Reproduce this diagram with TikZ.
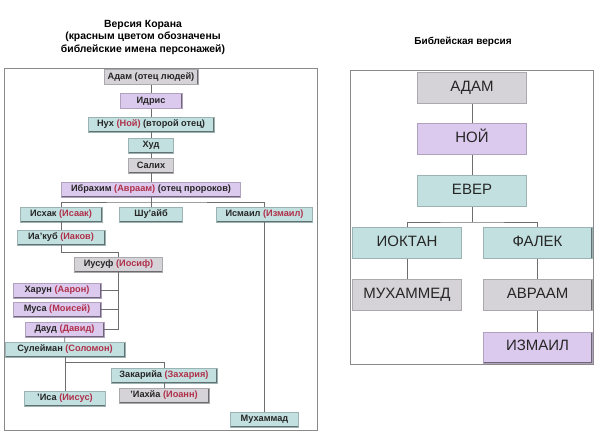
\documentclass[tikz,border=0pt]{standalone}
\usepackage{fontspec}
\setmainfont{Liberation Sans}
\usepackage{xcolor}
\usetikzlibrary{positioning,calc}
\definecolor{BoxGray}{HTML}{D5D3D8}
\definecolor{BoxLilac}{HTML}{DCCAEE}
\definecolor{BoxTeal}{HTML}{C3E0E0}
\definecolor{BibRed}{HTML}{B0304A}
\definecolor{LinkGray}{HTML}{6E6E6E}
\definecolor{FrameGray}{HTML}{8A8A8A}
\newcommand{\bib}[1]{\textcolor{BibRed}{#1}}

\tikzset{
  namebox/.style={fill=#1, draw=#1!80!black, inner sep=0pt, text=black!85,
    path picture={\draw[#1!50!black, line width=1.6pt]
      (path picture bounding box.north east) -- (path picture bounding box.south east)
      -- (path picture bounding box.south west);}},
  qbox/.style={namebox=#1, minimum height=15pt, font=\bfseries\fontsize{9.2}{10}\selectfont},
  bbox/.style={namebox=#1, minimum height=31pt, minimum width=109pt, text height=11pt, text depth=5pt, font=\fontsize{15}{18}\selectfont},
  link/.style={draw=LinkGray, line width=0.8pt},
  frame/.style={draw=FrameGray, line width=0.8pt, fill=white},
  headline/.style={font=\bfseries\fontsize{10.4}{12.5}\selectfont, align=center}
}

\begin{document}
\begin{tikzpicture}[x=1pt, y=-1pt]
  \useasboundingbox (0,0) rectangle (604,437);

  % titles
  \node[headline] (qtitle) at (143,37) {Версия Корана\\(красным цветом обозначены\\библейские имена персонажей)};
  \node[headline, font=\bfseries\fontsize{10}{12}\selectfont] (btitle) at (463,42) {Библейская версия};

  % frames
  \draw[frame] (4,68) rectangle (317,430);
  \draw[frame] (350,70) rectangle (593,364);

  % Quran version
  \node[qbox=BoxGray, minimum width=94pt] (adam) at (151,77) {Адам (отец людей)};
  \node[qbox=BoxLilac, minimum width=62pt] (idris) at (151,101) {Идрис};
  \node[qbox=BoxTeal, minimum width=126pt] (nuh) at (151,124.5) {Нух \bib{(Ной)} (второй отец)};
  \node[qbox=BoxTeal, minimum width=45pt] (hud) at (151,145.5) {Худ};
  \node[qbox=BoxGray, minimum width=45pt] (salih) at (151,165.5) {Салих};
  \node[qbox=BoxLilac, minimum width=179pt] (ibrahim) at (151,189.5) {Ибрахим \bib{(Авраам)} (отец пророков)};
  \node[qbox=BoxTeal, minimum width=82pt] (ishaq) at (61,214.5) {Исхак \bib{(Исаак)}};
  \node[qbox=BoxTeal, minimum width=63pt] (shuaib) at (151,214.5) {Шу'айб};
  \node[qbox=BoxTeal, minimum width=96pt] (ismail) at (264.5,214.5) {Исмаил \bib{(Измаил)}};
  \node[qbox=BoxTeal, minimum width=88pt] (yaqub) at (61,237.5) {Иа'куб \bib{(Иаков)}};
  \node[qbox=BoxGray, minimum width=88pt] (yusuf) at (118.5,264.5) {Иусуф \bib{(Иосиф)}};
  \node[qbox=BoxLilac, minimum width=88pt] (harun) at (57,290.5) {Харун \bib{(Аарон)}};
  \node[qbox=BoxLilac, minimum width=88pt] (musa) at (57,309.5) {Муса \bib{(Моисей)}};
  \node[qbox=BoxLilac, minimum width=79pt] (daud) at (64.5,329.5) {Дауд \bib{(Давид)}};
  \node[qbox=BoxTeal, minimum width=120pt] (suleiman) at (65,349.5) {Сулейман \bib{(Соломон)}};
  \node[qbox=BoxTeal, minimum width=106pt] (zakariya) at (164,375.5) {Закарийа \bib{(Захария)}};
  \node[qbox=BoxGray, minimum width=90pt] (yahya) at (164,395.5) {'Иахйа \bib{(Иоанн)}};
  \node[qbox=BoxTeal, minimum width=81pt] (isa) at (65,398.5) {'Иса \bib{(Иисус)}};
  \node[qbox=BoxTeal, minimum width=68pt] (muhammad) at (264.5,419.5) {Мухаммад};

  \coordinate (fork1) at (151,202);
  \coordinate (fork2) at (118.5,252);
  \coordinate (fork3) at (65,362);

  \draw[link] (adam) -- (idris);
  \draw[link] (idris) -- (nuh);
  \draw[link] (nuh) -- (hud);
  \draw[link] (hud) -- (salih);
  \draw[link] (salih) -- (ibrahim);
  \draw[link] (ibrahim) -- (shuaib);
  \draw[link] (ishaq.north) |- (fork1) -| (ismail.north);
  \draw[link] (ishaq) -- (yaqub);
  \draw[link] (yaqub.south) |- (fork2) -- (yusuf.north);
  \draw[link] (yusuf.south) |- (daud.east);
  \draw[link] (harun.east) -- (harun.east -| yusuf.south);
  \draw[link] (musa.east) -- (musa.east -| yusuf.south);
  \draw[link] (daud) -- (suleiman);
  \draw[link] (suleiman) -- (isa);
  \draw[link] (fork3) -| (zakariya.north);
  \draw[link] (zakariya) -- (yahya);
  \draw[link] (ismail) -- (muhammad);

  % Bible version
  \node[bbox=BoxGray] (badam) at (472,88) {АДАМ};
  \node[bbox=BoxLilac] (noi) at (472,139) {НОЙ};
  \node[bbox=BoxTeal] (ever) at (472,191) {ЕВЕР};
  \node[bbox=BoxTeal] (ioktan) at (407,243) {ИОКТАН};
  \node[bbox=BoxTeal] (falek) at (537.5,243) {ФАЛЕК};
  \node[bbox=BoxGray] (muhammed) at (407,295) {МУХАММЕД};
  \node[bbox=BoxGray] (avraam) at (537.5,295) {АВРААМ};
  \node[bbox=BoxLilac] (izmail) at (537.5,347.5) {ИЗМАИЛ};

  \coordinate (fork4) at (472,222);
  \draw[link] (badam) -- (noi);
  \draw[link] (noi) -- (ever);
  \draw[link] (ever) -- (fork4);
  \draw[link] (ioktan.north) |- (fork4) -| (falek.north);
  \draw[link] (ioktan) -- (muhammed);
  \draw[link] (falek) -- (avraam);
  \draw[link] (avraam) -- (izmail);
\end{tikzpicture}
\end{document}
